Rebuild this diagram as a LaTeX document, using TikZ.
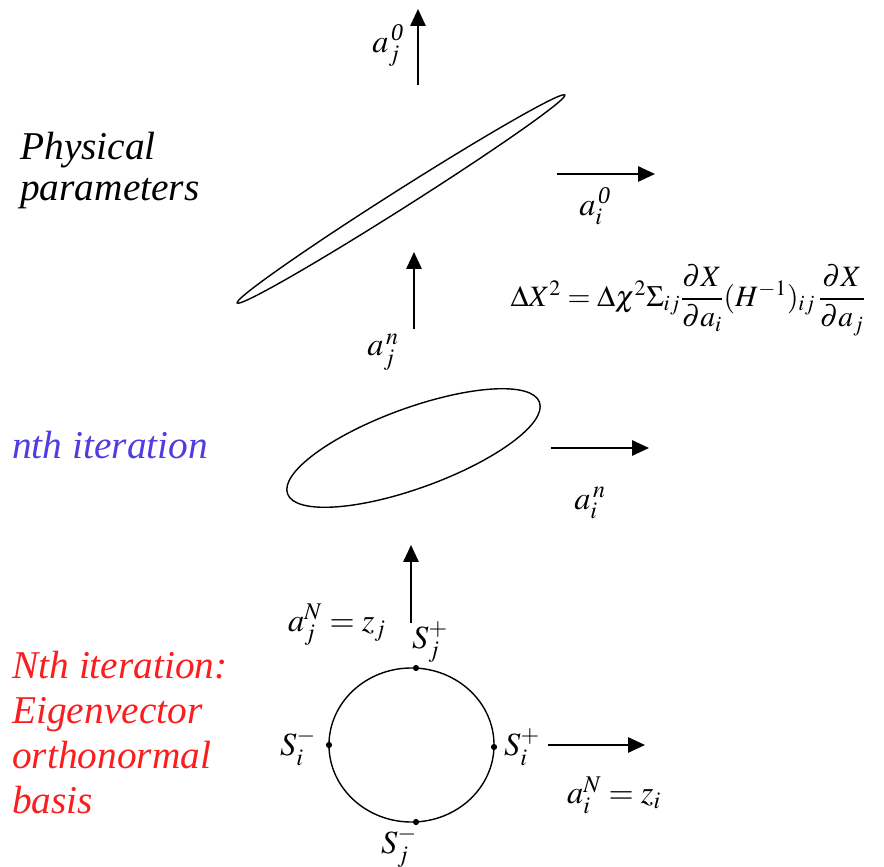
\documentclass[tikz,border=0pt]{standalone}
\usepackage{amsmath}
\usepackage{mathptmx}
\usepackage{fontspec}
\setmainfont{Liberation Serif}
\usepackage[dvipsnames]{xcolor}
\usetikzlibrary{arrows.meta}
\definecolor{bleuit}{RGB}{80,60,225}
\definecolor{rougeit}{RGB}{250,30,30}

\begin{document}
\begin{tikzpicture}[x=0.025cm,y=-0.025cm,
  fleche/.style={line width=1.3pt,-{Triangle[length=0.42cm,width=0.38cm]}},
  courbe/.style={line width=1pt},
  lab/.style={font=\fontsize{23}{28}\selectfont,inner sep=0pt},
  titre/.style={font=\fontsize{28}{28.5}\selectfont\itshape,anchor=base west,inner sep=0pt,align=left}]
\useasboundingbox (0,0) rectangle (884,867);

%parametres physiques (ancre base = derniere ligne)
\node[titre] (phys) at (20,200) {Physical\\parameters};
\coordinate (cA) at (401,199);
\draw[courbe,rotate around={32.4:(cA)}] (cA) ellipse [x radius=4.85cm, y radius=0.225cm];
\coordinate (aj0d) at (418,85);
\coordinate (aj0f) at (418,9);
\draw[fleche] (aj0d) -- (aj0f);
\node[lab] (aj0) at (388,46) {$a_j^{\,\textit{0}}$};
\coordinate (ai0d) at (557,174);
\coordinate (ai0f) at (655,174);
\draw[fleche] (ai0d) -- (ai0f);
\node[lab] (ai0) at (595,206) {$a_i^{\,\textit{0}}$};
\node[lab,font=\fontsize{21}{26}\selectfont] (chi) at (688,300)
  {$\Delta X^2=\Delta\chi^2\Sigma_{ij}\dfrac{\partial X}{\partial a_i}(H^{-1})_{ij}\,\dfrac{\partial X}{\partial a_j}$};

%n-ieme iteration
\coordinate (ajnd) at (414,329);
\coordinate (ajnf) at (414,252);
\draw[fleche] (ajnd) -- (ajnf);
\node[lab] (ajn) at (383,352) {$a_j^{\,n}$};
\node[titre,text=bleuit] (nit) at (12,458) {nth iteration};
\coordinate (cB) at (413.5,448);
\draw[courbe,rotate around={20:(cB)}] (cB) ellipse [x radius=3.35cm, y radius=1cm];
\coordinate (aind) at (551,448);
\coordinate (ainf) at (649,448);
\draw[fleche] (aind) -- (ainf);
\node[lab] (ain) at (590,503) {$a_i^{\,n}$};

%base propre
\coordinate (ajNd) at (411,623);
\coordinate (ajNf) at (411,545);
\draw[fleche] (ajNd) -- (ajNf);
\node[lab] (ajN) at (337,625) {$a_j^N=z_j$};
\node[titre,text=rougeit] (Nit) at (12,813)
  {Nth iteration:\\[3.5pt]Eigenvector\\[3.5pt]orthonormal\\[3.5pt]basis};
\coordinate (cC) at (411.5,745);
\draw[courbe] (cC) ellipse [x radius=2.0625cm, y radius=1.925cm];
\coordinate (pjp) at (416,668);
\coordinate (pim) at (329,745);
\coordinate (pip) at (494,747);
\coordinate (pjm) at (416,822);
\foreach \p in {pjp,pim,pip,pjm} \fill (\p) circle [radius=2.2pt];
\node[lab] (sjp) at (430,642) {$S_j^+$};
\node[lab] (sim) at (298,747) {$S_i^-$};
\node[lab] (sip) at (522,747) {$S_i^+$};
\node[lab] (sjm) at (399,847) {$S_j^-$};
\coordinate (aiNd) at (548,745);
\coordinate (aiNf) at (645,745);
\draw[fleche] (aiNd) -- (aiNf);
\node[lab] (aiN) at (614,795) {$a_i^N=z_i$};

\end{tikzpicture}
\end{document}
